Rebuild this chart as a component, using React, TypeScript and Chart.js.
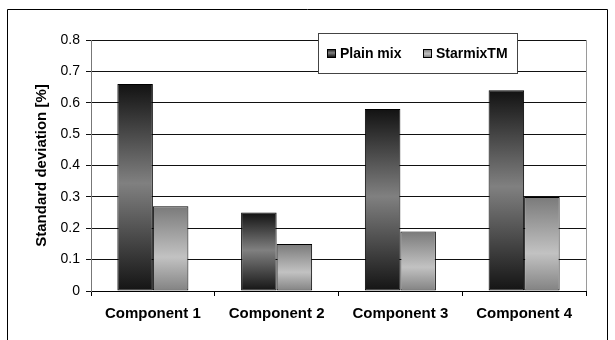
import React, { useEffect, useRef } from 'react';
import { Chart, registerables } from 'chart.js';

Chart.register(...registerables);

const categories = ['Component 1', 'Component 2', 'Component 3', 'Component 4'];
const plainMix = [0.66, 0.25, 0.58, 0.64];
const starmix = [0.27, 0.15, 0.19, 0.3];
const seriesLabels = ['Plain mix', 'StarmixTM'];
const yTitle = 'Standard deviation [%]';
const yMin = 0;
const yMax = 0.8;
const yStep = 0.1;

const FONT = '"Liberation Sans", Arial, Helvetica, sans-serif';

const plainStops: [number, string][] = [
  [0, '#121212'],
  [0.48, '#808080'],
  [1, '#141414'],
];
const starStops: [number, string][] = [
  [0, '#7a7a7a'],
  [0.6, '#c2c2c2'],
  [1, '#828282'],
];

function barGradient(stops: [number, string][], fallback: string) {
  return (ctx: any) => {
    const chart = ctx.chart;
    const y = chart.scales && chart.scales.y;
    if (!y || ctx.type !== 'data' || typeof ctx.raw !== 'number') return fallback;
    const top = y.getPixelForValue(ctx.raw);
    const bottom = y.getPixelForValue(0);
    if (!isFinite(top) || !isFinite(bottom) || top === bottom) return fallback;
    const g = chart.ctx.createLinearGradient(0, top, 0, bottom);
    stops.forEach(([o, c]) => g.addColorStop(o, c));
    return g;
  };
}

const framePlugin = {
  id: 'frame',
  beforeDraw(chart: any) {
    const c = chart.ctx;
    c.save();
    c.strokeStyle = '#000';
    c.lineWidth = 1;
    c.beginPath();
    c.moveTo(7.5, 345);
    c.lineTo(7.5, 9.5);
    c.lineTo(607.5, 9.5);
    c.lineTo(607.5, 345);
    c.stroke();
    c.restore();
  },
  afterDatasetsDraw(chart: any) {
    const c = chart.ctx;
    const a = chart.chartArea;
    c.save();
    c.strokeStyle = '#9a9a9a';
    c.lineWidth = 1;
    c.beginPath();
    c.moveTo(Math.round(a.right) + 0.5, a.top);
    c.lineTo(Math.round(a.right) + 0.5, a.bottom);
    c.stroke();
    c.restore();
  },
};

const legendPlugin = {
  id: 'boxLegend',
  afterDraw(chart: any) {
    const c = chart.ctx;
    const x0 = 318, y0 = 33, w = 199, h = 40;
    c.save();
    c.fillStyle = '#fff';
    c.fillRect(x0, y0, w, h);
    c.strokeStyle = '#444';
    c.lineWidth = 1;
    c.strokeRect(x0 + 0.5, y0 + 0.5, w, h);
    const cy = y0 + h / 2;
    const items = chart.data.datasets.map((d: any, i: number) => ({ label: d.label, stops: i === 0 ? plainStops : starStops }));
    const xs = [327, 423];
    c.font = `bold 14px ${FONT}`;
    c.textBaseline = 'middle';
    c.textAlign = 'left';
    items.forEach((it: any, i: number) => {
      const sx = xs[i];
      const sz = 8;
      const g = c.createLinearGradient(0, cy - sz / 2, 0, cy + sz / 2);
      it.stops.forEach(([o, col]: [number, string]) => g.addColorStop(o, col));
      c.fillStyle = g;
      c.fillRect(sx, cy - sz / 2, sz, sz);
      c.strokeStyle = '#000';
      c.strokeRect(sx + 0.5, cy - sz / 2 + 0.5, sz, sz);
      c.fillStyle = '#000';
      c.fillText(it.label, sx + 13, cy + 1);
    });
    c.restore();
  },
};

export default function App() {
  const ref = useRef<HTMLCanvasElement>(null);
  useEffect(() => {
    if (!ref.current) return;
    const chart = new Chart(ref.current, {
      type: 'bar',
      data: {
        labels: categories,
        datasets: [
          {
            label: seriesLabels[0],
            data: plainMix,
            backgroundColor: barGradient(plainStops, '#555'),
            borderColor: '#000',
            borderWidth: 1,
            borderSkipped: false,
            categoryPercentage: 0.574,
            barPercentage: 1,
          },
          {
            label: seriesLabels[1],
            data: starmix,
            backgroundColor: barGradient(starStops, '#aaa'),
            borderColor: '#000',
            borderWidth: 1,
            borderSkipped: false,
            categoryPercentage: 0.574,
            barPercentage: 1,
          },
        ],
      },
      options: {
        responsive: false,
        animation: false,
        events: [],
        layout: { padding: { left: 0, top: 40, right: 29, bottom: 0 } },
        plugins: {
          legend: { display: false },
          tooltip: { enabled: false },
          title: { display: false },
        },
        scales: {
          x: {
            offset: true,
            grid: {
              offset: true,
              drawOnChartArea: false,
              drawTicks: true,
              tickLength: 5,
              color: '#000',
            },
            border: { display: true, color: '#000', width: 1 },
            ticks: {
              color: '#000',
              font: { family: FONT, size: 15, weight: 'bold' },
              padding: 9,
              maxRotation: 0,
              autoSkip: false,
            },
            afterFit: (s: any) => {
              s.height = 49;
            },
          },
          y: {
            min: yMin,
            max: yMax,
            grid: {
              color: '#111',
              lineWidth: 1,
              drawTicks: true,
              tickLength: 5,
            },
            border: { display: true, color: '#777', width: 1 },
            ticks: {
              stepSize: yStep,
              color: '#000',
              font: { family: FONT, size: 14 },
              padding: 6,
              callback: (v: any) => (Number(v) === 0 ? '0' : Number(v).toFixed(1)),
            },
            title: {
              display: true,
              text: yTitle,
              color: '#000',
              font: { family: FONT, size: 15, weight: 'bold' },
              padding: { top: 33, bottom: 0 },
            },
            afterFit: (s: any) => {
              s.width = 91;
            },
          },
        },
      },
      plugins: [framePlugin, legendPlugin],
    } as any);
    return () => chart.destroy();
  }, []);
  return (
    <div style={{ position: 'absolute', left: 0, top: 0, width: 615, height: 340, background: '#fff' }}>
      <canvas ref={ref} width={615} height={340} style={{ display: 'block', width: 615, height: 340 }} />
    </div>
  );
}
